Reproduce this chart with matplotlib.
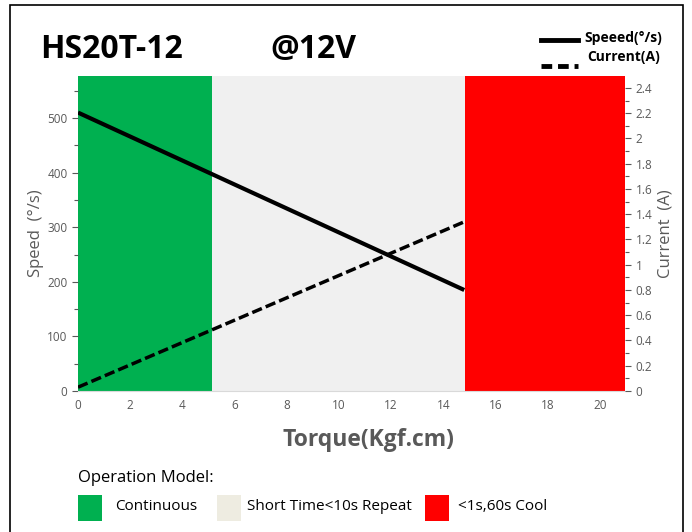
import matplotlib.pyplot as plt
from matplotlib.patches import Rectangle
from matplotlib.lines import Line2D

# Data
torque = [0, 14.8]
speed = [510, 185]
current = [0.03, 1.34]

zones = ['Continuous', 'Short Time<10s Repeat', '<1s,60s Cool']
zone_edges = [0, 5.13, 14.83, 20.96]
zone_colors = ['#00B050', '#F0F0F0', '#FF0000']
legend_colors = ['#00B050', '#EEECE1', '#FF0000']

speed_ticks = [0, 100, 200, 300, 400, 500]
current_ticks = [0, 0.2, 0.4, 0.6, 0.8, 1, 1.2, 1.4, 1.6, 1.8, 2, 2.2, 2.4]
torque_ticks = list(range(0, 21, 2))

GRAY = '#595959'
FONT = ['Open Sans', 'DejaVu Sans']
plt.rcParams['font.family'] = FONT

fig = plt.figure(figsize=(6.92, 5.32), dpi=100)

# outer frame
fig.add_artist(Rectangle((10 / 692, -0.01), 673 / 692, 1 - 5 / 532 + 0.01,
                         transform=fig.transFigure, fill=False, ec='black', lw=1.2))

ax = fig.add_axes([78 / 692, 1 - 391 / 532, 547 / 692, 315 / 532])
ax2 = ax.twinx()

# operating zones
for i in range(len(zones)):
    ax.axvspan(zone_edges[i], zone_edges[i + 1], color=zone_colors[i], lw=0, zorder=0)

ax.plot(torque, speed, color='black', lw=3, solid_capstyle='butt', zorder=3)
ax2.plot(torque, current, color='black', lw=2.5, ls=(0, (3, 1.2)), zorder=3)

ax.set_xlim(0, zone_edges[-1])
ax.set_ylim(0, 577)
ax2.set_ylim(0, 2.495)

ax.set_xticks(torque_ticks)
ax.set_yticks(speed_ticks)
ax.set_yticks(range(50, 577, 100), minor=True)
ax2.set_yticks(current_ticks)
ax2.set_yticklabels(['0', '0.2', '0.4', '0.6', '0.8', '1', '1.2', '1.4', '1.6', '1.8', '2', '2.2', '2.4'])
ax2.set_yticks([v / 10 for v in range(1, 25, 2)], minor=True)

for a in (ax, ax2):
    for s in a.spines.values():
        s.set_visible(False)
    a.tick_params(colors=GRAY, labelsize=8.5, length=4, width=0.8)
    a.tick_params(which='minor', colors=GRAY, length=3, width=0.8)
ax.tick_params(axis='x', length=0, pad=6)
ax.spines['bottom'].set_visible(True)
ax.spines['bottom'].set_color('#D9D9D9')

ax.set_ylabel('Speed  (°/s)', fontsize=12, color=GRAY, labelpad=2)
ax2.set_ylabel('Current  (A)', fontsize=12, color=GRAY, labelpad=4)
fig.text(368 / 692, 1 - 440 / 532, 'Torque(Kgf.cm)', fontsize=16.5, fontweight='bold',
         color=GRAY, ha='center', va='center')

# titles
fig.text(40 / 692, 1 - 50 / 532, 'HS20T-12', fontsize=23, fontweight='bold', va='center')
fig.text(270 / 692, 1 - 50 / 532, '@12V', fontsize=23, fontweight='bold', va='center')

# line legend
fig.add_artist(Line2D([541 / 692, 578 / 692], [1 - 40 / 532] * 2, color='black', lw=3.5))
fig.add_artist(Line2D([541 / 692, 578 / 692], [1 - 66 / 532] * 2, color='black', lw=3.5,
                      ls=(0, (2.2, 1.2))))
fig.text(584 / 692, 1 - 38 / 532, 'Speeed(°/s)', fontsize=10, fontweight='bold', va='center')
fig.text(587 / 692, 1 - 57 / 532, 'Current(A)', fontsize=10, fontweight='bold', va='center')

# operation model legend
fig.text(78 / 692, 1 - 478 / 532, 'Operation Model:', fontsize=12, va='center')
box_x = [78, 217, 425]
text_x = [115, 247, 458]
for i in range(len(zones)):
    fig.add_artist(Rectangle((box_x[i] / 692, 1 - 521 / 532), 24 / 692, 26 / 532,
                             transform=fig.transFigure, color=legend_colors[i], lw=0))
    fig.text(text_x[i] / 692, 1 - 507 / 532, zones[i], fontsize=11, va='center')

fig.savefig('out.png', dpi=100)
